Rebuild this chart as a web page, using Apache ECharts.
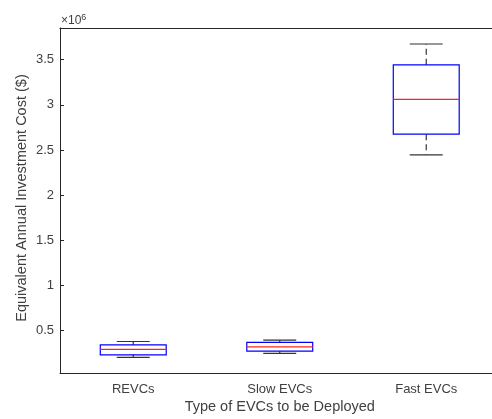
<!DOCTYPE html>
<html>
<head>
<meta charset="utf-8">
<script src="https://cdn.jsdelivr.net/npm/echarts@6/dist/echarts.min.js"></script>
<style>
  html, body { margin: 0; padding: 0; overflow: hidden; background: #fff; }
  #main { width: 500px; height: 419px; }
</style>
</head>
<body>
<div id="main"></div>
<script>
// values (dollars)
const categories = ["REVCs", "Slow EVCs", "Fast EVCs"];
const whiskerLow = [203000, 247000, 2446000];
const quartile1 = [231000, 272000, 2674000];
const medians = [291000, 320000, 3059000];
const quartile3 = [342000, 368000, 3442000];
const whiskerHigh = [379000, 393000, 3673000];

const boxData = categories.map((c, i) => [
  i, whiskerLow[i], quartile1[i], medians[i], quartile3[i], whiskerHigh[i]
]);

const textColor = "#404040";
const lineColor = "#262626";

const myChart = echarts.init(document.getElementById("main"), null, { renderer: "canvas" });

// matlab-like box: blue box, red median, dashed whiskers, solid caps
function renderBox(params, api) {
  const x = api.value(0);
  const band = api.size([1, 0])[0];
  const half = band * 0.225;
  const capHalf = half / 2;
  const pLow = api.coord([x, api.value(1)]);
  const pQ1 = api.coord([x, api.value(2)]);
  const pMed = api.coord([x, api.value(3)]);
  const pQ3 = api.coord([x, api.value(4)]);
  const pHigh = api.coord([x, api.value(5)]);
  const cx = pMed[0];
  const dash = { stroke: "#333", lineWidth: 1.2, lineDash: [6, 4] };
  const solid = { stroke: "#333", lineWidth: 1.2 };
  return {
    type: "group",
    children: [
      { type: "line", shape: { x1: cx, y1: pQ3[1], x2: cx, y2: pHigh[1] }, style: dash },
      { type: "line", shape: { x1: cx, y1: pQ1[1], x2: cx, y2: pLow[1] }, style: dash },
      { type: "line", shape: { x1: cx - capHalf, y1: pHigh[1], x2: cx + capHalf, y2: pHigh[1] }, style: solid },
      { type: "line", shape: { x1: cx - capHalf, y1: pLow[1], x2: cx + capHalf, y2: pLow[1] }, style: solid },
      {
        type: "rect",
        shape: { x: cx - half, y: pQ3[1], width: half * 2, height: pQ1[1] - pQ3[1] },
        style: { fill: "none", stroke: "#0000ff", lineWidth: 1.2 }
      },
      { type: "line", shape: { x1: cx - half, y1: pMed[1], x2: cx + half, y2: pMed[1] }, style: { stroke: "#ff2020", lineWidth: 1.2 } }
    ]
  };
}

const option = {
  animation: false,
  backgroundColor: "#fff",
  textStyle: { fontFamily: "Liberation Sans, Arial, sans-serif" },
  grid: { left: 60, top: 28, right: 0.5, bottom: 44, containLabel: false },
  xAxis: [
    {
      type: "category",
      data: categories,
      position: "bottom",
      boundaryGap: true,
      axisLine: { lineStyle: { color: lineColor, width: 1 } },
      axisTick: { inside: true, length: 4, alignWithLabel: true, lineStyle: { color: lineColor } },
      axisLabel: { color: textColor, fontSize: 13, margin: 10 },
      name: "Type of EVCs to be Deployed",
      nameLocation: "middle",
      nameGap: 26,
      nameMoveOverlap: false,
      nameTextStyle: { color: textColor, fontSize: 14.5 },
      splitLine: { show: false }
    },
    {
      type: "category",
      data: categories,
      position: "top",
      boundaryGap: true,
      axisLine: { lineStyle: { color: lineColor, width: 1 } },
      axisTick: { inside: true, length: 4, alignWithLabel: true, lineStyle: { color: lineColor } },
      axisLabel: { show: false },
      splitLine: { show: false }
    }
  ],
  yAxis: {
    type: "value",
    min: 30000,
    max: 3850000,
    splitNumber: 8,
    axisLine: { show: true, lineStyle: { color: lineColor, width: 1 } },
    axisTick: { show: true, inside: true, length: 4, lineStyle: { color: lineColor } },
    axisLabel: {
      color: textColor,
      fontSize: 13,
      margin: 6,
      showMinLabel: false,
      showMaxLabel: false,
      formatter: v => String(v / 1e6)
    },
    splitLine: { show: false },
    name: "Equivalent Annual Investment Cost ($)",
    nameLocation: "middle",
    nameGap: 31,
    nameMoveOverlap: false,
    nameTextStyle: { color: textColor, fontSize: 14.5, padding: [0, 0, 0, 5] }
  },
  graphic: [
    {
      type: "text",
      left: 61,
      top: 13,
      style: {
        text: "×10{sup|6}",
        fill: textColor,
        font: "12px Liberation Sans",
        rich: { sup: { fontSize: 9, verticalAlign: "top", padding: [0, 0, 7, 0], fill: textColor } }
      }
    }
  ],
  series: [
    {
      type: "custom",
      xAxisIndex: 0,
      yAxisIndex: 0,
      renderItem: renderBox,
      encode: { x: 0, y: [1, 2, 3, 4, 5] },
      data: boxData
    }
  ]
};

myChart.setOption(option);
</script>
</body>
</html>
